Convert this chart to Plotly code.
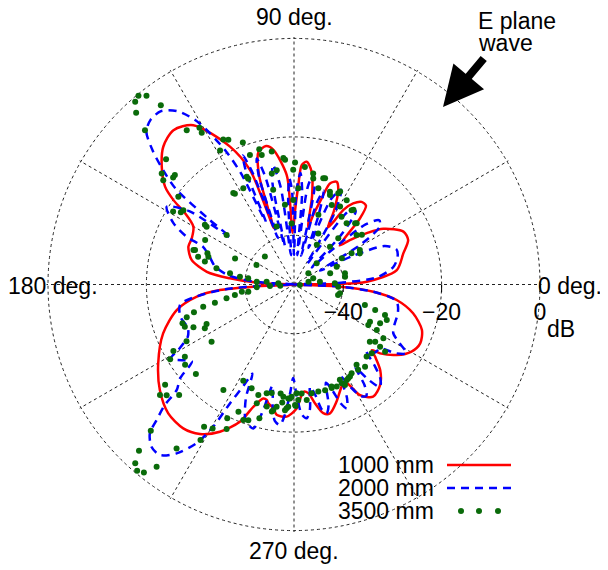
import plotly.graph_objects as go

# ---------------- data (angle in degrees, level in dB) ----------------
series_names = ["1000 mm", "2000 mm", "3500 mm"]

red_theta = [0, 0.6, 2.2, 8.0, 15.9, 21.3, 25.8, 32.0, 35.2, 38.5, 40.5, 45.1, 47.6, 50.7, 53.9,
             56.5, 57.6, 59.3, 61.5, 64.9, 67.4, 70.4, 72.2, 74.5, 76.3, 78.5, 81.1, 84.1, 86.3,
             87.5, 89.2, 91.5, 92.8, 93.8, 98.7, 101.4, 105.0, 107.7, 108.6, 109.8, 110.3, 111.0,
             114.9, 122.3, 128.0, 133.5, 138.3, 142.8, 145.0, 146.8, 150.1, 155.7, 160.3, 166.5,
             171.7, 174.5, 177.5, 180, 183.1, 184.3, 187.1, 192.3, 200.5, 210.1, 218.2, 225.7,
             232.4, 237.8, 243.3, 248.5, 251.6, 254.9, 256.7, 257.8, 260.5, 262.4, 266.8, 271.2,
             275.0, 277.5, 280.0, 282.8, 285.6, 290.0, 295.0, 297.7, 300.8, 305.2, 310.6, 315.2,
             318.3, 319.9, 321.3, 325.5, 330.3, 335.0, 340.4, 346.4, 351.4, 354.8, 357.3, 360]
red_db = [-50, -41.3, -35.2, -28.9, -26.9, -25.1, -25.3, -28.6, -31.9, -35.5, -37.8, -31.0, -28.3,
          -28.3, -29.6, -31.8, -34.5, -36.5, -33.0, -28.8, -27.4, -28.2, -31.6, -35.3, -38.0, -31.5,
          -26.8, -24.9, -25.7, -29.8, -35.0, -39.5, -33.2, -27.7, -22.3, -21.3, -22.1, -26.6, -32.3,
          -37.8, -31.0, -25.1, -19.1, -11.7, -10.2, -11.4, -14.0, -17.1, -20.1, -23.5, -26.4, -27.2,
          -27.2, -28.6, -32.1, -36.9, -43.0, -50, -41.7, -34.9, -30.1, -25.6, -21.6, -18.1, -15.3,
          -13.4, -13.1, -14.1, -16.5, -20.0, -23.8, -26.0, -25.9, -25.3, -24.5, -23.3, -23.1, -24.8,
          -28.1, -27.7, -25.5, -23.2, -22.8, -24.7, -27.1, -27.7, -23.8, -22.1, -23.1, -25.3, -27.9,
          -29.3, -27.6, -24.7, -22.5, -21.7, -22.4, -25.1, -28.9, -33.8, -40.6, -50]

blue_theta = [0, 2, 5, 10, 15, 19, 23, 26, 28, 31, 34, 37, 40, 42.5, 44, 46.5, 50, 53, 55.5, 57.5,
              60.5, 63.5, 66.5, 68.5, 70.5, 72.5, 74.5, 76, 78, 80, 82, 83.5, 85, 86.7, 88.5, 90,
              91.2, 92.5, 94, 95.8, 97.8, 100, 102, 103.5, 105, 106.5, 108, 109.2, 110.3, 111.6,
              113, 114.2, 115.5, 117, 119, 121, 124, 127.5, 131, 134, 136.7, 139, 141, 142.5,
              143.5, 145, 148.6, 153, 156, 157.5, 162, 167, 172, 176, 180,
              182, 184, 187, 190, 196, 202, 206, 209.5, 211, 214, 217, 219.5, 222, 223, 224.6,
              225.9, 228.7, 231.8, 235.2, 238.5, 240.4, 241.7, 243.5, 245, 247, 250, 252, 254.2,
              256, 258, 260, 262, 264.3, 266, 268, 269.5, 271.5, 273.5, 275.4, 277.3, 279, 281,
              282.5, 284.2, 286, 288, 290, 291.5, 293.1, 295, 297, 299, 301, 303, 305, 306.5, 308,
              310, 312.5, 315, 317.5, 320, 323.4, 326, 328.6, 331, 333.8, 338, 344.5, 348.8,
              351.4, 354.8, 357.3, 360]
blue_db = [-50, -41, -33, -29.5, -28.2, -28.0, -30, -37, -44, -34, -29, -28.3, -31, -40, -45, -36,
           -30.5, -31, -40, -45, -33, -28.5, -31, -42, -35, -30, -33, -44, -30, -27.3, -30, -44,
           -31, -27.3, -31, -44, -31, -28.4, -33, -44, -30, -25.3, -29, -42, -27, -23.3, -27, -40,
           -26, -21.8, -25, -36, -25, -19.7, -15, -11, -7.5, -5.6, -5.6, -6.8, -10.7, -15, -19,
           -28, -34, -24, -19.7, -22.5, -26.1, -30, -32, -33.5, -36.5, -42, -50,
           -44, -36, -30, -26.5, -26, -26.7, -26, -23, -20.7, -22.5, -24, -20, -17.9, -14.1,
           -10.8, -7.9, -6.1, -5.9, -8.2, -12.2, -16.8, -22.6, -27, -30, -25, -21, -20, -19.6,
           -23, -29, -25, -22, -21.3, -23.5, -28, -31, -27, -23.5, -22.7, -24.5, -29, -27, -24, -23,
           -24.5, -29, -27, -24, -22.6, -24.5, -29, -26, -23.5, -23, -25, -29, -25.5, -22.8, -24, -27,
           -30, -28.5, -28.2, -25, -23.2, -25.5, -27.5, -28, -28.1, -28.5, -29.2, -33.8, -40.6, -50]

green_theta = [129.5, 128.0, 131.0, 132.6, 126.6, 134.0, 135.6, 140.0, 141.4, 138.5, 142.8, 148.9,
               147.4, 124.8, 121.1, 121.3, 116.0, 114.4, 118.9, 109.8, 113.4, 117.8, 123.1, 104.4,
               99.5, 98.6, 102.4, 106.7, 94.8, 89.5, 87.4, 92.2, 146.5, 143.7, 153.4, 160.8, 160.2,
               163.8, 165.6, 168.2, 156.1, 170.1, 171.8, 172.3, 175.7, 174.1, 175.6, 152.4, 136.2,
               108.8, 104.0, 101.3, 90.4, 84.7, 96.5, 90.5, 79.7, 75.8, 73.7, 70.7, 64.6, 59.4,
               68.1, 64.1, 64.6, 46.2, 54.9, 49.3, 51.5, 45.1, 38.3, 27.6, 28.4, 60.1,
               94.1, 80.2, 74.6, 68.8, 63.6, 58.0, 52.2, 44.3, 36.2, 25.3, 46.4, 28.8, 22.6, 17.3,
               12.4, 8.7, 6.1, 17.8, 38.0, 43.0, 137.4, 146.1, 146.2, 161.1, 162.0, 113.7, 123.6,
               184.9, 183.6, 184.3, 189.0, 187.8, 190.1, 191.6, 193.0, 193.8, 195.5, 197.0, 199.2,
               201.2, 203.0, 206.2, 204.3, 207.8, 214.8, 208.9, 211.1, 213.5, 216.4, 222.4, 217.9,
               219.5, 221.0, 223.9, 225.6, 227.0, 228.4, 229.9, 231.4, 233.0, 234.4, 239.0, 237.7,
               240.5, 245.0, 243.5, 246.4, 249.5, 251.4, 236.2, 242.2, 247.8, 252.6, 255.5, 255.9,
               258.4, 261.9, 260.1, 264.3, 268.0, 265.9, 270.8, 271.4,
               252.1, 257.4, 260.6, 263.0, 266.6, 267.1, 268.8, 270.5, 272.1, 274.0, 276.3, 279.2,
               282.8, 286.4, 290.0, 292.7, 295.8, 298.9, 301.3, 296.9,
               264.6, 267.3, 295.7, 300.1, 303.0, 306.9, 307.9, 310.8, 315.2, 318.5, 323.0, 324.8,
               329.0, 331.2, 335.7, 339.0, 341.5, 342.5, 333.9, 343.9, 331.4, 349.2, 357.2, 1.7,
               11.0, 355.0, 346.7, 324.1, 323.6, 290.2]
green_db = [-0.3, -1.3, -0.8, -2.6, -4.6, -6.4, -13.6, -14.9, -16.0, -17.2, -20.5, -21.3,
            -22.7, -11.8, -12.8, -13.9, -17.2, -17.7, -18.9, -19.3, -26.6, -27.9, -28.0, -21.6,
            -22.6, -26.5, -30.3, -37.7, -24.2, -25.2, -30.4, -37.6, -28.7, -33.0, -29.8, -28.7, -31.3,
            -29.7, -31.3, -33.9, -36.9, -36.8, -38.9, -40.6, -42.4, -44.4, -46.8, -41.4, -41.8,
            -22.2, -22.9, -27.0, -26.7, -26.0, -33.7, -32.8, -28.1, -29.8, -27.5, -35.0, -32.1, -31.6,
            -30.4, -29.4, -38.5, -37.0, -33.2, -33.6, -30.6, -32.4, -33.8, -34.9, -36.7, -40.7,
            -24.6, -27.1, -27.6, -29.8, -28.9, -29.8, -30.9, -32.2, -32.9, -35.2, -39.4, -38.9, -40.6, -42.3,
            -39.4, -39.5, -44.7, -45.9, -46.3, -43.7, -17.1, -22.9, -28.2, -28.4, -31.7, -26.1, -27.7,
            -47.2, -45.1, -42.4, -40.6, -39.3, -37.8, -36.0, -33.5, -31.0, -28.9, -27.2, -26.0,
            -26.2, -27.8, -29.8, -30.5, -25.3, -29.6, -22.0, -20.6, -23.4, -22.5, -23.0, -16.8,
            -14.7, -15.7, -17.6, -8.4, -3.8, -1.4, -0.5, -1.1, -3.6, -9.0, -13.1, -15.8,
            -16.4, -17.6, -19.6, -21.8, -20.6, -20.9, -24.2, -27.9, -27.2, -24.7, -21.9, -27.2,
            -27.5, -24.9, -23.8, -25.9, -26.8, -24.4, -25.3, -27.9,
            -26.4, -24.6, -24.1, -27.7, -24.8, -26.8, -27.2, -25.5, -26.5, -27.8, -26.4, -27.6,
            -27.7, -27.6, -27.6, -27.5, -27.7, -27.8, -28.1, -27.1,
            -27.1, -25.1, -28.5, -28.0, -28.5, -28.3, -29.3, -27.9, -29.2, -28.9, -30.7, -29.8,
            -28.8, -30.8, -30.8, -29.8, -30.5, -32.7, -32.8, -35.0, -32.8, -40.5, -41.0, -41.7,
            -47.0, -48.8, -40.8, -28.4, -27.0, -27.9]

radial_range = [-50, 0.3]
radial_tickvals = [-40, -20, 0]
radial_ticktext = ["\u221240", "\u221220", "0"]
angle_tickvals = list(range(0, 360, 30))
angle_labels = ["0 deg.", "90 deg.", "180 deg.", "270 deg."]

# ---------------- figure ----------------
# the page body keeps its default 8px margin, so the figure is sized to fill the window exactly
WIN_W, WIN_H, PAGE_MARGIN = 608, 570, 8
W, H = WIN_W - PAGE_MARGIN, WIN_H - PAGE_MARGIN
FONT = "Liberation Sans, Arial, sans-serif"
RED, BLUE, GREEN = "#ff0000", "#0000ff", "#0a6b0a"


def px(x):
    """window x pixel -> paper fraction"""
    return (x - PAGE_MARGIN) / W


def py(y):
    """window y pixel (from top) -> paper fraction (from bottom)"""
    return (WIN_H - y) / H


def label(x, y, text, anchor="center"):
    fig.add_annotation(x=px(x), y=py(y), xref="paper", yref="paper", text=text, showarrow=False,
                       xanchor=anchor, yanchor="middle", borderpad=0,
                       font=dict(size=23, family=FONT, color="black"))


fig = go.Figure()
fig.add_trace(go.Scatterpolar(theta=red_theta, r=red_db, mode="lines", name=series_names[0],
                              line=dict(color=RED, width=2.5, shape="spline", smoothing=0.8)))
fig.add_trace(go.Scatterpolar(theta=blue_theta, r=blue_db, mode="lines", name=series_names[1],
                              line=dict(color=BLUE, width=2.5, dash="8px,6px", shape="spline", smoothing=0.8)))
fig.add_trace(go.Scatterpolar(theta=green_theta, r=green_db, mode="markers", name=series_names[2],
                              marker=dict(color=GREEN, size=6)))

cx, cy = 294, 284.5
R = 246 * (radial_range[1] - radial_range[0]) / 50.0
fig.update_layout(
    width=W, height=H, margin=dict(l=0, r=0, t=0, b=0),
    paper_bgcolor="white", showlegend=False,
    font=dict(family=FONT, size=23, color="black"),
    polar=dict(
        domain=dict(x=[px(cx - R), px(cx + R)], y=[py(cy + R), py(cy - R)]),
        bgcolor="white",
        radialaxis=dict(range=radial_range, tickvals=radial_tickvals, ticktext=radial_ticktext,
                        angle=0, side="clockwise", tickangle=0, showline=False,
                        gridcolor="#222", griddash="dot", gridwidth=1,
                        ticks="outside", ticklen=7, tickwidth=1.2, tickcolor="black",
                        tickfont=dict(size=23, family=FONT, color="black")),
        angularaxis=dict(tickvals=angle_tickvals, showticklabels=False, direction="counterclockwise",
                         rotation=0, showline=False, gridcolor="#222", griddash="dot", gridwidth=1,
                         ticks=""),
    ),
)

# angular labels
lab_pos = [(537, 286, "left"), (294, 17, "center"), (53, 286, "center"), (294, 551, "center")]
for text, (lx, ly, anc) in zip(angle_labels, lab_pos):
    label(lx, ly, text, anc)

# dB unit label
label(561, 329, "dB")

# E-plane wave note and arrow
label(477, 21, "E plane", "left")
label(477, 43, "wave", "left")
fig.add_annotation(x=px(443), y=py(107), xref="paper", yref="paper", text="", showarrow=True,
                   ax=42, ay=-50, arrowhead=2, arrowwidth=8, arrowsize=1.0, arrowcolor="black", standoff=0)

# custom legend: text on the left, sample on the right
leg_y = [465, 488, 511]
for name, yy in zip(series_names, leg_y):
    label(435, yy, name, "right")
fig.add_shape(type="line", xref="paper", yref="paper", x0=px(447), x1=px(511), y0=py(leg_y[0]), y1=py(leg_y[0]),
              line=dict(color=RED, width=2.5))
fig.add_shape(type="line", xref="paper", yref="paper", x0=px(447), x1=px(511), y0=py(leg_y[1]), y1=py(leg_y[1]),
              line=dict(color=BLUE, width=2.5, dash="8px,6px"))
for xx in [461, 479, 498]:
    fig.add_shape(type="circle", xref="paper", yref="paper", x0=px(xx - 3), x1=px(xx + 3),
                  y0=py(leg_y[2] + 3), y1=py(leg_y[2] - 3), fillcolor=GREEN, line=dict(width=0))

fig.write_html("out.html")
